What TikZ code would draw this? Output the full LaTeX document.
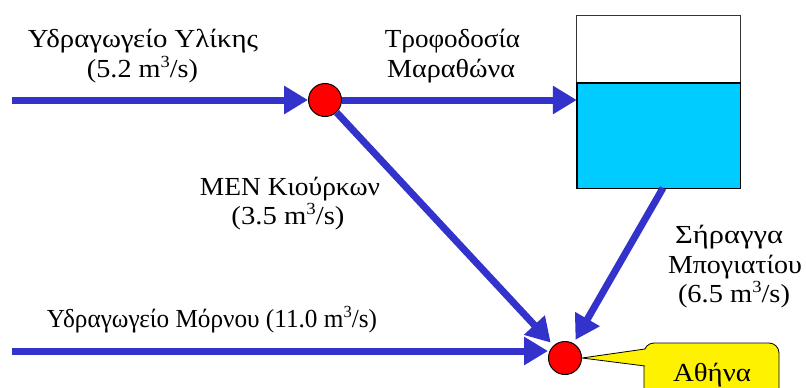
\documentclass[tikz,border=0pt]{standalone}
\usepackage{fontspec}
\usepackage{graphicx}
\setmainfont{Liberation Serif}
\usetikzlibrary{arrows.meta}
\definecolor{flowblue}{RGB}{51,51,204}
\definecolor{tankcyan}{RGB}{0,204,255}
\newcommand{\cubm}{m\raisebox{0.36em}{\fontsize{17}{17}\selectfont 3}}
\newcommand{\fitw}[2]{\resizebox{#1pt}{\height}{#2}}
\begin{document}
\begin{tikzpicture}[x=1pt,y=-1pt,
  flow/.style={draw=flowblue,line width=7pt,-{Triangle[length=24pt,width=27pt]}},
  junction/.style={circle,draw=black,line width=1pt,fill=red,minimum size=33pt,inner sep=0pt},
  lbl/.style={anchor=base,font=\fontsize{26}{30}\selectfont,inner sep=0pt},
  bubble/.style={rectangle,draw=black,line width=0.8pt,fill=yellow,rounded corners=10pt,minimum width=135pt,minimum height=58pt,inner sep=0pt}]
\useasboundingbox (0,0) rectangle (806,388);
\clip (0,0) rectangle (806,388);
% tank
\node[rectangle,minimum width=163pt,minimum height=172pt,inner sep=0pt] (tank) at (658.5,102) {};
\fill[white] (tank.north west) rectangle (740,83);
\fill[tankcyan] (577,83) rectangle (tank.south east);
\draw[black!80,line width=1pt] (tank.north west) rectangle (740,83);
\draw[black,line width=1.2pt] (577,83) rectangle (tank.south east);
% junctions
\node[junction] (n1) at (325,100) {};
\node[junction] (n2) at (565,358) {};
% free ends
\coordinate (a0) at (12,100);
\coordinate (b0) at (12,351);
\coordinate (b1) at (548,351);
\coordinate (t1) at (663,188);
% flows
\draw[flow] (a0) -- (n1.west);
\draw[flow] (n1.east) -- (n1 -| tank.west);
\draw[flow,shorten >=4pt] (n1) -- (n2);
\draw[flow,shorten >=4pt] (t1) -- (n2);
\draw[flow] (b0) -- (b1);
% callout
\node[bubble] (ath) at (711.5,372) {};
\fill[yellow] (n2.east) -- (645.5,349) -- (645.5,366) -- cycle;
\draw[line width=0.8pt] (645,349) -- (n2.east) -- (645,366);
\node[lbl] at (712,381) {\fitw{78}{Αθήνα}};
% labels
\node[lbl] at (143,47) {\fitw{230}{Υδραγωγείο Υλίκης}};
\node[lbl] at (142.5,77) {\fitw{111}{(5.2 \cubm/s)}};
\node[lbl] at (452.5,47) {\fitw{135}{Τροφοδοσία}};
\node[lbl] at (451,77) {\fitw{128}{Μαραθώνα}};
\node[lbl] at (290,195) {\fitw{180}{ΜΕΝ Κιούρκων}};
\node[lbl] at (288,224) {\fitw{113}{(3.5 \cubm/s)}};
\node[lbl] at (729,243) {\fitw{108}{Σήραγγα}};
\node[lbl] at (735,273) {\fitw{134}{Μπογιατίου}};
\node[lbl] at (734,302) {\fitw{112}{(6.5 \cubm/s)}};
\node[lbl] at (212,327) {\fitw{330}{Υδραγωγείο Μόρνου (11.0 \cubm/s)}};
\end{tikzpicture}
\end{document}
